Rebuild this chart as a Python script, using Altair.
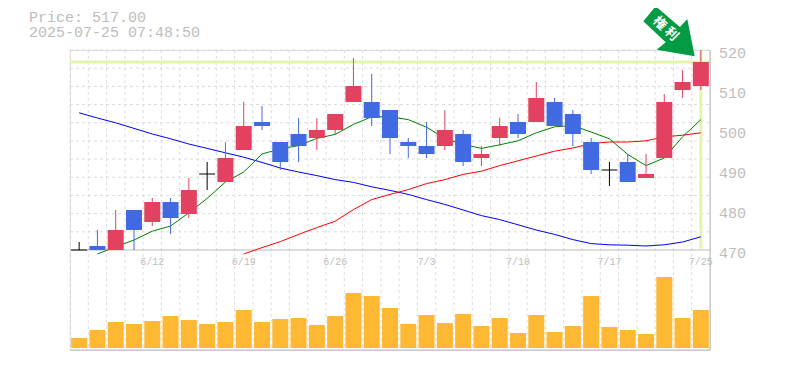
import altair as alt
import pandas as pd

dates = {4: "6/12", 9: "6/19", 14: "6/26", 19: "7/3", 24: "7/10", 29: "7/17", 34: "7/25"}
opens = [470, 470, 470, 480, 477, 482, 479, 489, 487, 495, 502, 497, 499, 498, 500, 507, 507, 505, 497, 496, 496, 499, 493, 498, 502, 502, 507, 504, 497, 490, 492, 488, 493, 510, 511]
closes = [470, 471, 475, 475, 482, 478, 485, 489, 493, 501, 501, 492, 496, 500, 504, 511, 503, 498, 496, 494, 500, 492, 494, 501, 499, 508, 501, 499, 490, 490, 487, 489, 507, 512, 517]
highs = [472, 475, 480, 480, 483, 483, 488, 492, 497, 507, 506, 497, 503, 503, 504, 518, 514, 505, 498, 502, 505, 500, 496, 503, 504, 512, 508, 505, 498, 492, 494, 494, 509, 515, 520]
lows = [470, 470, 470, 470, 476, 474, 478, 485, 487, 495, 500, 490, 492, 495, 499, 507, 501, 494, 493, 493, 495, 491, 491, 496, 498, 502, 501, 496, 489, 486, 487, 488, 493, 508, 510]
ma5 = [None, 469, 470.8, 472.5, 474.7, 476, 479.3, 482.9, 487, 489.5, 494, 495.3, 496.1, 497.9, 498.9, 501.4, 503.3, 503.3, 502.6, 500.7, 497.9, 496.4, 495.4, 496.3, 497.3, 499.3, 500.8, 501.1, 499.5, 497.8, 493.9, 491.1, 493, 498.3, 502.6]
ma25 = [None] * 9 + [469, 470.6, 472.1, 473.9, 475.6, 477.2, 480.1, 482.6, 483.9, 485.1, 486.6, 487.6, 488.9, 489.7, 491.1, 492.3, 493.5, 494.7, 495.5, 496.6, 497, 497, 497.3, 498.3, 498.7, 499.3]
ma75 = [504.3, 503, 501.8, 500.4, 499, 497.8, 496.5, 495.4, 494.3, 493.2, 491.9, 490.5, 489.5, 488.6, 487.6, 486.9, 485.8, 484.9, 483.9, 482.6, 481.4, 480, 478.6, 477.6, 476.3, 475, 473.9, 472.6, 471.6, 471.3, 471.2, 471, 471.3, 472, 473.3]
volume = [10, 18, 26, 24, 27, 32, 28, 24, 26, 38, 26, 29, 30, 23, 32, 55, 52, 40, 24, 33, 25, 34, 22, 30, 15, 33, 16, 22, 52, 21, 18, 14, 71, 30, 38]
last_price = 517
price_text = "Price: 517.00"
time_text = "2025-07-25 07:48:50"
n = len(closes)

down_idx = [1, 3, 5, 10, 11, 12, 16, 17, 18, 19, 21, 24, 26, 27, 28, 30]
flat_idx = [0, 7, 29]
df = pd.DataFrame({"slot": [i + 0.5 for i in range(n)], "o": opens, "c": closes, "h": highs, "l": lows,
                   "ma5": ma5, "ma25": ma25, "ma75": ma75, "vol": volume})
df["dir"] = ["flat" if i in flat_idx else ("down" if i in down_idx else "up") for i in range(n)]

XS = alt.Scale(domain=[0, n], nice=False, zero=False, padding=0)
X = alt.X("slot:Q", scale=XS, axis=None)
X0 = alt.X("x0:Q", scale=XS, axis=None)
PRICE = alt.Scale(domain=[445, 520], nice=False, zero=False, padding=0)
COLOR = alt.Color("dir:N", scale=alt.Scale(domain=["up", "down", "flat"], range=["#e2425f", "#4169e1", "#000000"]), legend=None)
MONO = "Liberation Mono"
GRID = "#dcdcdc"
AXIS = "#bbbbbb"
LIME = "#e2f5ad"
TEXTC = "#bdbdbd"


def py(field="y"):
    return alt.Y(f"{field}:Q", scale=PRICE, axis=None)


vgrid = alt.Chart(pd.DataFrame({"slot": list(range(n)), "a": [520] * n, "b": [445] * n})).mark_rule(
    color=GRID, strokeDash=[3, 3], strokeWidth=1).encode(x=X, y=py("a"), y2="b:Q")
ygrid_vals = [470 + 50 * k / 11 for k in range(1, 12)]
hgrid = alt.Chart(pd.DataFrame({"y": ygrid_vals, "x0": [0] * 11, "x1": [n] * 11})).mark_rule(
    color=GRID, strokeDash=[3, 3], strokeWidth=1).encode(x=X0, x2="x1:Q", y=py())

hl_h = alt.Chart(pd.DataFrame({"y": [last_price], "x0": [0], "x1": [n]})).mark_rule(
    color=LIME, strokeWidth=3).encode(x=X0, x2="x1:Q", y=py())
hl_v = alt.Chart(pd.DataFrame({"slot": [n - 0.5], "a": [520], "b": [470.3]})).mark_rule(
    color=LIME, strokeWidth=3).encode(x=X, y=py("a"), y2="b:Q")

base_axis_h = alt.Chart(pd.DataFrame({"y": [470, 445], "x0": [0, 0], "x1": [n, n]})).mark_rule(
    color=AXIS, strokeWidth=1).encode(x=X0, x2="x1:Q", y=py())
base_axis_v = alt.Chart(pd.DataFrame({"slot": [n], "a": [520], "b": [445]})).mark_rule(
    color=AXIS, strokeWidth=1).encode(x=X, y=py("a"), y2="b:Q")

price_axis = alt.Chart(pd.DataFrame({"y": [470, 480, 490, 500, 510, 520]})).mark_text(
    font=MONO, fontSize=15, color=TEXTC, align="left", baseline="middle", dx=9, dy=3).encode(
    x=alt.value(640), y=py(), text=alt.Text("y:Q", format="d"))

date_df = pd.DataFrame({"slot": [k + 0.5 for k in dates], "t": list(dates.values()), "y": [466.9] * len(dates)})
date_labels = alt.Chart(date_df).mark_text(font=MONO, fontSize=10, color=TEXTC, baseline="middle").encode(
    x=X, y=py(), text="t:N")


def ma(field, color):
    return alt.Chart(df).mark_line(color=color, strokeWidth=1, interpolate="linear").encode(
        x=X, y=alt.Y(f"{field}:Q", scale=PRICE, axis=None))


def label(text, x, y, **kw):
    return alt.Chart(pd.DataFrame({"t": [text]})).mark_text(**kw).encode(
        x=alt.value(x), y=alt.value(y), text="t:N")


wick = alt.Chart(df).mark_rule(strokeWidth=1).encode(x=X, y=py("h"), y2="l:Q", color=COLOR)
body = alt.Chart(df[df["dir"] != "flat"]).mark_bar(size=16).encode(x=X, y=py("o"), y2="c:Q", color=COLOR)
doji = alt.Chart(df[df["dir"] == "flat"]).mark_tick(size=16, thickness=1, orient="horizontal", color="#000000", opacity=1).encode(
    x=X, y=py("c"))

vol = alt.Chart(df).mark_bar(size=16, color="#ffb834").encode(
    x=X, y=alt.Y("vol:Q", scale=alt.Scale(domain=[-2, 298], nice=False, zero=False, padding=0), axis=None))

arrow_path = "M -0.436 -0.74 L -0.74 -0.373 L -0.191 0.142 L -0.412 0.324 L 0.52 0.485 L 0.338 -0.429 L 0.159 -0.233 Z"
arrow = alt.Chart(pd.DataFrame({"k": ["a"]})).mark_point(
    shape=arrow_path, filled=True, color="#059b45", opacity=1, size=6660, strokeWidth=0).encode(
    x=alt.value(603.5), y=alt.value(-13.5))

txt = dict(font=MONO, fontSize=15, color=TEXTC, align="left", baseline="alphabetic")
cjk = dict(font="Noto Sans CJK JP", fontSize=13, fontWeight="bold", color="white", angle=45, align="center", baseline="middle")

chart = alt.layer(
    vgrid, hgrid, date_labels, vol, hl_h, hl_v, base_axis_h, base_axis_v,
    ma("ma75", "#0000ff"), ma("ma25", "#ff0000"), ma("ma5", "#008000"),
    wick, body, doji, price_axis, arrow,
    label("権", 589.7, -26.7, **cjk), label("利", 601.5, -16, **cjk),
    label(price_text, -41, -28, **txt), label(time_text, -41, -13, **txt),
).resolve_scale(y="independent").properties(
    width=640, height=300,
    padding={"left": 62, "top": 42, "right": 60, "bottom": 10},
    autosize=alt.AutoSizeParams(type="none"),
).configure_view(stroke=None).configure(background="white")

chart.save("out.html", embed_options={"renderer": "svg", "actions": False})
